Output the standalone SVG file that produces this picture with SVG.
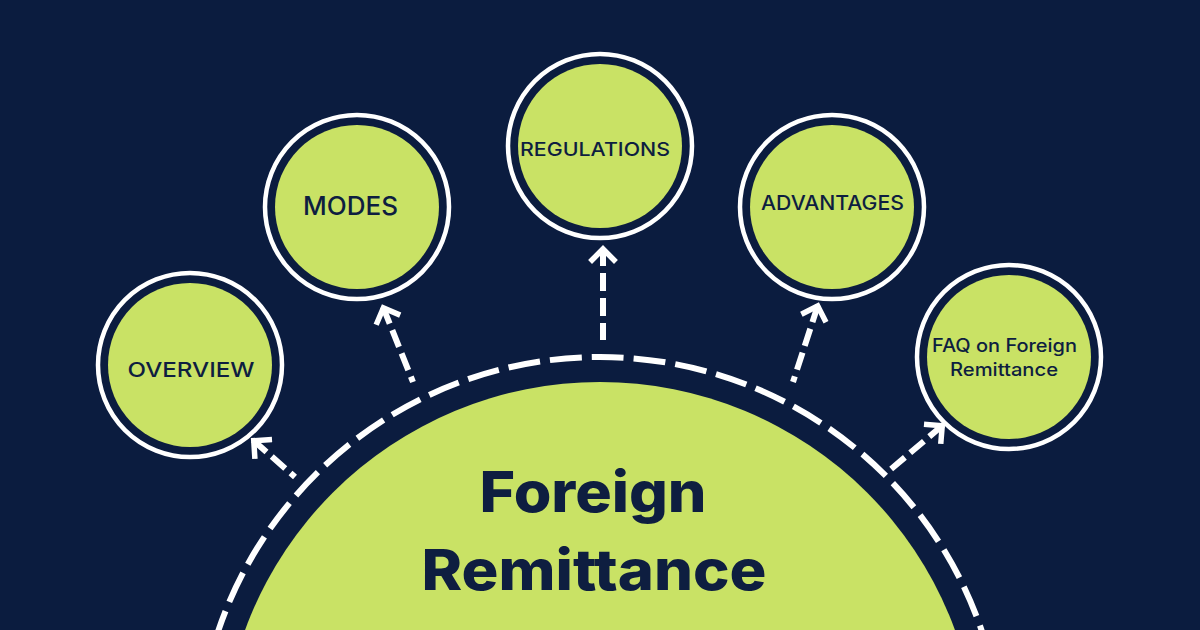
<svg xmlns="http://www.w3.org/2000/svg" width="1200" height="630" viewBox="0 0 1200 630">
<style>
.bg{fill:#0b1c3f}
.ring{fill:none;stroke:#ffffff;stroke-width:4.5}
.fill{fill:#c9e265}
.lbl{font-family:Inter,"Noto Sans","Liberation Sans",sans-serif;font-weight:500;fill:#0e1e40;text-anchor:middle}
.title{font-family:Inter,"Noto Sans","Liberation Sans",sans-serif;font-weight:800;font-size:56px;fill:#0e1e40;text-anchor:middle}
.conn{fill:none;stroke:#ffffff;stroke-width:6;stroke-dasharray:18 7;marker-start:url(#head)}
</style>
<defs>
<marker id="head" viewBox="-16 -16 32 32" refX="0" refY="0" markerWidth="32" markerHeight="32" markerUnits="userSpaceOnUse" orient="auto-start-reverse">
<path d="M-12,-11 L-1,0 L-12,11" fill="none" stroke="#ffffff" stroke-width="5.5" stroke-linecap="square"/>
</marker>
</defs>
<rect class="bg" x="0" y="0" width="1200" height="630"/>

<g id="center-node">
<circle cx="600" cy="760" r="403" fill="none" stroke="#ffffff" stroke-width="6" stroke-dasharray="32 10"/>
<circle class="fill" cx="600" cy="760" r="378"/>
<text class="title" x="593" y="512" textLength="227" lengthAdjust="spacingAndGlyphs">Foreign</text>
<text class="title" x="594" y="590" textLength="345" lengthAdjust="spacingAndGlyphs">Remittance</text>
</g>

<g id="connectors">
<path class="conn" d="M253,440 L295,477"/>
<path class="conn" d="M383,307 L413,382"/>
<path class="conn" d="M603,248 L603,340"/>
<path class="conn" d="M818,305 L793,382"/>
<path class="conn" d="M943,425 L890,470"/>
</g>

<g id="node-overview">
<circle class="ring" cx="190" cy="365" r="92"/>
<circle class="fill" cx="190" cy="365" r="82"/>
<text class="lbl" x="191" y="377" font-size="20" textLength="127" lengthAdjust="spacingAndGlyphs">OVERVIEW</text>
</g>

<g id="node-modes">
<circle class="ring" cx="357" cy="207" r="92"/>
<circle class="fill" cx="357" cy="207" r="82"/>
<text class="lbl" x="350.5" y="215" font-size="25" textLength="95" lengthAdjust="spacingAndGlyphs">MODES</text>
</g>

<g id="node-regulations">
<circle class="ring" cx="600" cy="146" r="92"/>
<circle class="fill" cx="600" cy="146" r="82"/>
<text class="lbl" x="595" y="156" font-size="19" textLength="150" lengthAdjust="spacingAndGlyphs">REGULATIONS</text>
</g>

<g id="node-advantages">
<circle class="ring" cx="832" cy="207" r="92"/>
<circle class="fill" cx="832" cy="207" r="82"/>
<text class="lbl" x="832.5" y="210" font-size="20" textLength="143" lengthAdjust="spacingAndGlyphs">ADVANTAGES</text>
</g>

<g id="node-faq">
<circle class="ring" cx="1009" cy="357" r="92"/>
<circle class="fill" cx="1009" cy="357" r="82"/>
<text class="lbl" x="1004.5" y="352" font-size="18" textLength="145" lengthAdjust="spacingAndGlyphs">FAQ on Foreign</text>
<text class="lbl" x="1004" y="376" font-size="18" textLength="108" lengthAdjust="spacingAndGlyphs">Remittance</text>
</g>
</svg>
